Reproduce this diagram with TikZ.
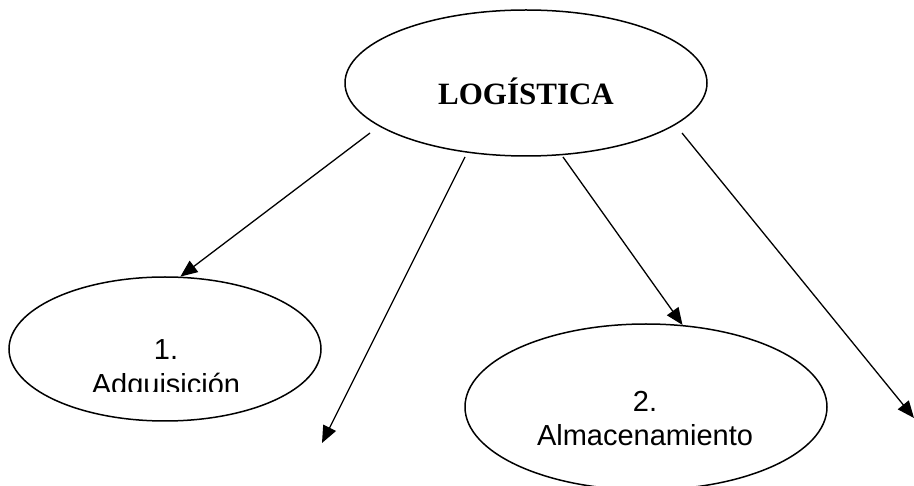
\documentclass[tikz,border=0pt]{standalone}
\usepackage{fontspec}
\setmainfont{Liberation Serif}
\newfontfamily\arialfont{Liberation Sans}
\usetikzlibrary{arrows.meta,shapes.geometric}
\begin{document}
\begin{tikzpicture}[x=1pt,y=-1pt,
  oval/.style={ellipse, draw, line width=1.5pt, inner sep=0pt},
  link/.style={line width=1.3pt, -{Triangle[length=17pt,width=14pt]}},
  title/.style={font=\bfseries\fontsize{31}{37}\selectfont, anchor=base, inner sep=0pt},
  body/.style={font=\arialfont\fontsize{29}{35}\selectfont, anchor=base, inner sep=0pt}]
\useasboundingbox (0,0) rectangle (914,486);
\clip (0,0) rectangle (914,486);
\fill[white] (0,0) rectangle (914,486);

% central concept
\node[oval, minimum width=362pt, minimum height=146pt] (log) at (526,83) {};
\node[title] (logt) at (526,105) {LOGÍSTICA};

% first branch
\node[oval, minimum width=312pt, minimum height=144pt] (adq) at (165,349) {};
\node[body] (adq1) at (166,360) {1.};
\begin{scope}
  \clip (0,0) rectangle (914,392);
  \node[body] (adq2) at (166,395) {Adquisición};
\end{scope}

% second branch
\node[oval, minimum width=362pt, minimum height=166pt] (alm) at (646,407) {};
\node[body] (alm1) at (645,412) {2.};
\node[body] (alm2) at (645,446) {Almacenamiento};

% connector ends
\coordinate (s1) at (370,133);
\coordinate (s2) at (465,157);
\coordinate (s3) at (563,157);
\coordinate (s4) at (682,133);
\coordinate (f2) at (322,443);
\coordinate (f4) at (914,418);

\draw[link] (s1) -- (adq.78);
\draw[link] (s2) -- (f2);
\draw[link] (s3) -- (alm.66);
\draw[link] (s4) -- (f4);
\end{tikzpicture}
\end{document}
